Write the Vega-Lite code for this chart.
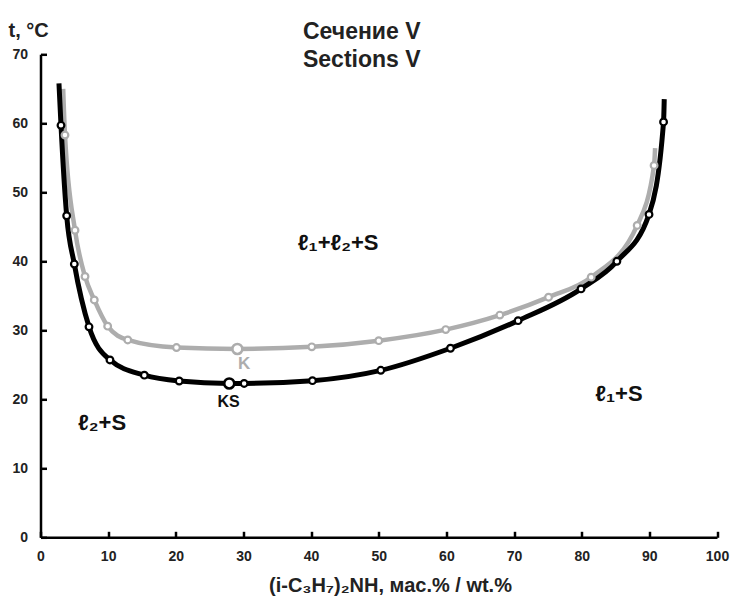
{
  "$schema": "https://vega.github.io/schema/vega-lite/v6.json",
  "width": 676.5,
  "height": 483,
  "autosize": {"type": "none"},
  "padding": {"left": 40.5, "top": 54.3, "right": 14, "bottom": 58.7},
  "background": "white",
  "config": {"view": {"stroke": null}, "font": "Liberation Sans"},
  "title": {
    "text": ["Сечение V", "Sections V"],
    "font": "Liberation Sans",
    "fontSize": 23,
    "fontWeight": "bold",
    "color": "#222222",
    "anchor": "middle",
    "dx": -17,
    "lineHeight": 28,
    "offset": -52
  },
  "data": {
    "values": [
      {"series": "K", "kind": "end", "x": 3.35, "t": 65.0},
      {"series": "K", "kind": "pt", "x": 3.62, "t": 58.3},
      {"series": "K", "kind": "pt", "x": 5.1, "t": 44.5},
      {"series": "K", "kind": "pt", "x": 6.58, "t": 37.8},
      {"series": "K", "kind": "pt", "x": 7.95, "t": 34.4},
      {"series": "K", "kind": "pt", "x": 9.93, "t": 30.6},
      {"series": "K", "kind": "pt", "x": 12.9, "t": 28.6},
      {"series": "K", "kind": "pt", "x": 20.1, "t": 27.5},
      {"series": "K", "kind": "big", "x": 29.1, "t": 27.3},
      {"series": "K", "kind": "pt", "x": 40.1, "t": 27.6},
      {"series": "K", "kind": "pt", "x": 50.0, "t": 28.5},
      {"series": "K", "kind": "pt", "x": 59.9, "t": 30.1},
      {"series": "K", "kind": "pt", "x": 67.9, "t": 32.2},
      {"series": "K", "kind": "pt", "x": 75.1, "t": 34.8},
      {"series": "K", "kind": "pt", "x": 81.4, "t": 37.7},
      {"series": "K", "kind": "pt", "x": 88.2, "t": 45.2},
      {"series": "K", "kind": "pt", "x": 90.7, "t": 53.9},
      {"series": "K", "kind": "end", "x": 90.85, "t": 56.4},
      {"series": "KS", "kind": "end", "x": 2.73, "t": 65.8},
      {"series": "KS", "kind": "pt", "x": 3.03, "t": 59.7},
      {"series": "KS", "kind": "pt", "x": 3.87, "t": 46.6},
      {"series": "KS", "kind": "pt", "x": 5.0, "t": 39.6},
      {"series": "KS", "kind": "pt", "x": 7.17, "t": 30.5},
      {"series": "KS", "kind": "pt", "x": 10.27, "t": 25.7},
      {"series": "KS", "kind": "pt", "x": 15.35, "t": 23.5},
      {"series": "KS", "kind": "pt", "x": 20.5, "t": 22.65},
      {"series": "KS", "kind": "big", "x": 27.9, "t": 22.3},
      {"series": "KS", "kind": "pt", "x": 30.1, "t": 22.3},
      {"series": "KS", "kind": "pt", "x": 40.2, "t": 22.7},
      {"series": "KS", "kind": "pt", "x": 50.3, "t": 24.2},
      {"series": "KS", "kind": "pt", "x": 60.6, "t": 27.4},
      {"series": "KS", "kind": "pt", "x": 70.6, "t": 31.4},
      {"series": "KS", "kind": "pt", "x": 79.9, "t": 36.0},
      {"series": "KS", "kind": "pt", "x": 85.2, "t": 40.0},
      {"series": "KS", "kind": "pt", "x": 89.95, "t": 46.8},
      {"series": "KS", "kind": "pt", "x": 92.1, "t": 60.2},
      {"series": "KS", "kind": "end", "x": 92.2, "t": 63.5}
    ]
  },
  "encoding": {
    "x": {
      "field": "x",
      "type": "quantitative",
      "scale": {"domain": [0, 100], "nice": false, "zero": false},
      "axis": {
        "title": "(i-C₃H₇)₂NH, мас.% / wt.%",
        "values": [0, 10, 20, 30, 40, 50, 60, 70, 80, 90, 100],
        "grid": false,
        "ticks": true,
        "zindex": 1,
        "domainColor": "black",
        "domainWidth": 2.5,
        "tickColor": "black",
        "tickWidth": 2.5,
        "tickSize": -6,
        "labelFont": "Liberation Sans",
        "labelFontSize": 14,
        "labelFontWeight": "bold",
        "labelColor": "#222222",
        "labelPadding": 18,
        "labelFlush": false,
        "titleFont": "Liberation Sans",
        "titleFontSize": 20,
        "titleFontWeight": "bold",
        "titleColor": "#222222",
        "titleX": 349.5,
        "titleY": 53.7,
        "titleAlign": "center",
        "titleBaseline": "alphabetic"
      }
    },
    "y": {
      "field": "t",
      "type": "quantitative",
      "scale": {"domain": [0, 70], "nice": false, "zero": false},
      "axis": {
        "title": "t, °C",
        "values": [0, 10, 20, 30, 40, 50, 60, 70],
        "grid": false,
        "ticks": true,
        "zindex": 1,
        "domainColor": "black",
        "domainWidth": 2.5,
        "tickColor": "black",
        "tickWidth": 2.5,
        "tickSize": -6,
        "labelFont": "Liberation Sans",
        "labelFontSize": 14,
        "labelFontWeight": "bold",
        "labelColor": "#222222",
        "labelPadding": 19,
        "labelFlush": false,
        "titleFont": "Liberation Sans",
        "titleFontSize": 20,
        "titleFontWeight": "bold",
        "titleColor": "#222222",
        "titleAngle": 0,
        "titleX": -32.5,
        "titleY": -18,
        "titleAlign": "left",
        "titleBaseline": "alphabetic"
      }
    }
  },
  "layer": [
    {
      "transform": [{"filter": "datum.series === 'K'"}],
      "mark": {"type": "line", "color": "#adadad", "strokeWidth": 4.5, "interpolate": "monotone"}
    },
    {
      "transform": [{"filter": "datum.series === 'KS'"}],
      "mark": {"type": "line", "color": "#000000", "strokeWidth": 5, "interpolate": "monotone"}
    },
    {
      "transform": [{"filter": "datum.series === 'K' && datum.kind === 'pt'"}],
      "mark": {"type": "point", "shape": "circle", "filled": false, "fill": "white", "fillOpacity": 1, "stroke": "#adadad", "strokeWidth": 2.2, "size": 45, "opacity": 1}
    },
    {
      "transform": [{"filter": "datum.series === 'K' && datum.kind === 'big'"}],
      "mark": {"type": "point", "shape": "circle", "filled": false, "fill": "white", "fillOpacity": 1, "stroke": "#adadad", "strokeWidth": 2.6, "size": 100, "opacity": 1}
    },
    {
      "transform": [{"filter": "datum.series === 'KS' && datum.kind === 'pt'"}],
      "mark": {"type": "point", "shape": "circle", "filled": false, "fill": "white", "fillOpacity": 1, "stroke": "#000000", "strokeWidth": 2.2, "size": 45, "opacity": 1}
    },
    {
      "transform": [{"filter": "datum.series === 'KS' && datum.kind === 'big'"}],
      "mark": {"type": "point", "shape": "circle", "filled": false, "fill": "white", "fillOpacity": 1, "stroke": "#000000", "strokeWidth": 2.6, "size": 100, "opacity": 1}
    },
    {
      "data": {
        "values": [
          {"label": "ℓ₁+ℓ₂+S", "x": 44.0, "t": 42.65},
          {"label": "ℓ₂+S", "x": 9.1, "t": 16.6},
          {"label": "ℓ₁+S", "x": 85.5, "t": 20.8}
        ]
      },
      "mark": {"type": "text", "font": "Liberation Sans", "fontSize": 22, "fontWeight": "bold", "color": "#111111", "align": "center", "baseline": "middle"},
      "encoding": {"text": {"field": "label"}}
    },
    {
      "data": {"values": [{"label": "K", "x": 30.1, "t": 25.1}]},
      "mark": {"type": "text", "font": "Liberation Sans", "fontSize": 17, "fontWeight": "bold", "color": "#adadad", "align": "center", "baseline": "middle"},
      "encoding": {"text": {"field": "label"}}
    },
    {
      "data": {"values": [{"label": "KS", "x": 27.8, "t": 19.6}]},
      "mark": {"type": "text", "font": "Liberation Sans", "fontSize": 16, "fontWeight": "bold", "color": "#111111", "align": "center", "baseline": "middle"},
      "encoding": {"text": {"field": "label"}}
    }
  ]
}
